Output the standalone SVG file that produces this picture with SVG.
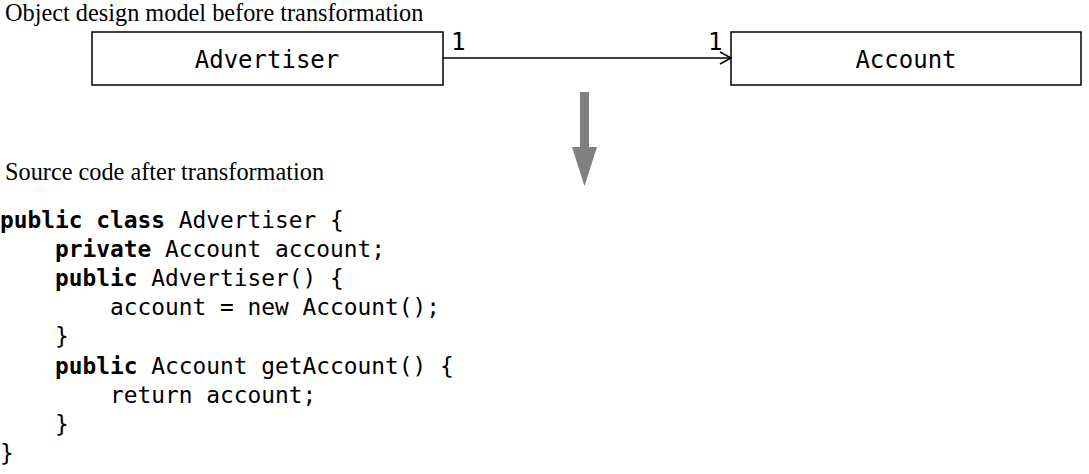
<svg xmlns="http://www.w3.org/2000/svg" width="1089" height="474" viewBox="0 0 1089 474">
<style>
.title{font-family:"Liberation Serif","Times New Roman",serif;font-size:24.3px;fill:#000}
.cls{font-family:"DejaVu Sans Mono","Liberation Mono",monospace;font-size:24px;fill:#000;text-anchor:middle}
.mult{font-family:"DejaVu Sans Mono","Liberation Mono",monospace;font-size:24px;fill:#000}
.box{fill:#fff;stroke:#000;stroke-width:1.5}
.code{font-family:"DejaVu Sans Mono","Liberation Mono",monospace;font-size:22.85px;fill:#000}
.kw{font-weight:bold}
</style>
<defs>
<marker id="open" markerWidth="14" markerHeight="14" refX="12" refY="7" orient="auto" markerUnits="userSpaceOnUse">
<path d="M1,1 L12,7 L1,13" fill="none" stroke="#000" stroke-width="1.5"/>
</marker>
</defs>
<text class="title" x="5" y="20.5">Object design model before transformation</text>
<g id="advertiser">
<rect class="box" x="92" y="32" width="351" height="53"/>
<text class="cls" x="267" y="68">Advertiser</text>
</g>
<g id="account">
<rect class="box" x="731" y="32" width="350" height="53"/>
<text class="cls" x="906" y="68">Account</text>
</g>
<g id="connectors">
<line x1="443" y1="58" x2="731" y2="58" stroke="#000" stroke-width="1.5" marker-end="url(#open)"/>
<text class="mult" x="451" y="50">1</text>
<text class="mult" x="708" y="50">1</text>
<g id="transform-arrow" fill="#808080">
<rect x="580" y="92" width="9" height="56"/>
<polygon points="572,147 597,147 584.5,186"/>
</g>
</g>
<text class="title" x="5" y="180">Source code after transformation</text>
<g id="code">
<text class="code" x="0" y="228"><tspan class="kw">public class</tspan> Advertiser {</text>
<text class="code" x="0" y="257" xml:space="preserve">    <tspan class="kw">private</tspan> Account account;</text>
<text class="code" x="0" y="286" xml:space="preserve">    <tspan class="kw">public</tspan> Advertiser() {</text>
<text class="code" x="0" y="315" xml:space="preserve">        account = new Account();</text>
<text class="code" x="0" y="344" xml:space="preserve">    }</text>
<text class="code" x="0" y="374" xml:space="preserve">    <tspan class="kw">public</tspan> Account getAccount() {</text>
<text class="code" x="0" y="403" xml:space="preserve">        return account;</text>
<text class="code" x="0" y="432" xml:space="preserve">    }</text>
<text class="code" x="0" y="461">}</text>
</g>
</svg>
